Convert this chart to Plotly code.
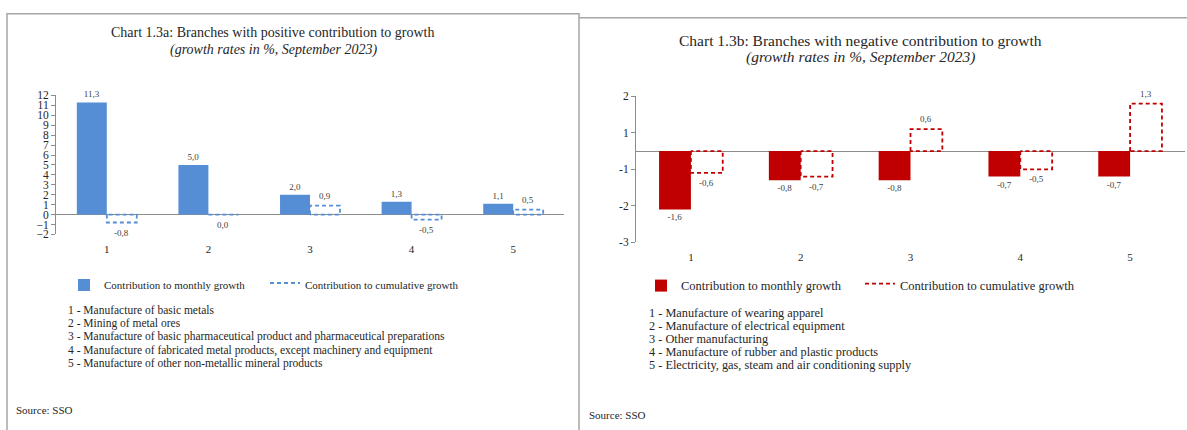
import plotly.graph_objects as go

# data
categories = [1, 2, 3, 4, 5]

pos_monthly = [11.3, 5.0, 2.0, 1.3, 1.1]
pos_cumulative = [-0.8, 0.0, 0.9, -0.5, 0.5]
pos_branches = [
    "Manufacture of basic metals",
    "Mining of metal ores",
    "Manufacture of basic pharmaceutical product and pharmaceutical preparations",
    "Manufacture of fabricated metal products, except machinery and equipment",
    "Manufacture of other non-metallic mineral products",
]

neg_monthly = [-1.6, -0.8, -0.8, -0.7, -0.7]
neg_cumulative = [-0.6, -0.7, 0.6, -0.5, 1.3]
neg_branches = [
    "Manufacture of wearing apparel",
    "Manufacture of electrical equipment",
    "Other manufacturing",
    "Manufacture of rubber and plastic products",
    "Electricity, gas, steam and air conditioning supply",
]

# y axis of chart b: ticks sit on half units, labels rounded like in the source
neg_tickvals = [-2.5, -1.5, -0.5, 0.5, 1.5]
neg_ticktext = ["-3", "-2", "-1", "1", "2"]

W, H = 1187, 430
FONT = "Liberation Serif"
BLUE = "#558ed5"
RED = "#c00000"
GREY = "#8c8c8c"
TXT = "#262626"


def px(x):
    return x / W


def py(y):
    return 1 - y / H


def add_panel(fig, monthly, cumulative, color, bw, xa, ya, legend):
    xs, ys = [], []
    for c, v in zip(categories, cumulative):
        xs += [c, c, c + bw, c + bw, c, None]
        ys += [0, v, v, 0, 0, None]

    fig.add_trace(go.Bar(
        x=[c - bw / 2 for c in categories], y=monthly, width=bw,
        marker=dict(color=color, line=dict(width=0)),
        name="Contribution to monthly growth",
        texttemplate="%{y:.1f}", textposition="outside",
        textfont=dict(size=9, color="#404040"), cliponaxis=False,
        xaxis=xa, yaxis=ya, legend=legend,
    ))
    fig.add_trace(go.Scatter(
        x=xs, y=ys, mode="lines", fill="toself",
        fillcolor="rgba(255,255,255,0)",
        line=dict(color=color, width=1.8, dash="4px,3px"),
        name="Contribution to cumulative growth",
        xaxis=xa, yaxis=ya, legend=legend,
    ))
    # value labels of the dashed bars
    for c, v in zip(categories, cumulative):
        fig.add_annotation(
            x=c + bw / 2, y=v, xref=xa, yref=ya,
            text=f"{v:.1f}".replace(".", ","),
            yshift=10 if v > 0 else -10,
            font=dict(size=9, color="#404040"),
        )


fig = go.Figure()
add_panel(fig, pos_monthly, pos_cumulative, BLUE, 0.295, "x", "y", "legend")
add_panel(fig, neg_monthly, neg_cumulative, RED, 0.29, "x2", "y2", "legend2")

xcommon = dict(range=[0.5, 5.5], tickvals=categories, ticktext=[str(c) for c in categories],
               showline=False, showgrid=False, zeroline=False, ticks="",
               ticklabelstandoff=7, tickfont=dict(size=11, color=TXT))
ycommon = dict(showline=True, linecolor=GREY, linewidth=1, ticks="outside", ticklen=4,
               tickcolor=GREY, showgrid=False, zeroline=True, zerolinecolor=GREY,
               zerolinewidth=1, tickfont=dict(size=11.5, color=TXT))

fig.update_layout(
    xaxis=dict(domain=[px(56), px(564)], anchor="y", **xcommon),
    yaxis=dict(domain=[py(235), py(92)], anchor="x", range=[-2, 12], dtick=1, **ycommon),
    xaxis2=dict(domain=[px(636), px(1185)], anchor="y2", **xcommon),
    yaxis2=dict(domain=[py(243), py(93)], anchor="x2", range=[-2.5, 1.5],
                tickvals=neg_tickvals, ticktext=neg_ticktext, **ycommon),
    legend=dict(orientation="h", x=px(64), y=py(287), xanchor="left", yanchor="middle",
                entrywidth=156, font=dict(size=11, color=TXT), traceorder="normal"),
    legend2=dict(orientation="h", x=px(641), y=py(288), xanchor="left", yanchor="middle",
                 entrywidth=174, font=dict(size=12.5, color=TXT), traceorder="normal"),
    barmode="overlay",
    separators=", ",
    width=W, height=H,
    margin=dict(l=0, r=0, t=0, b=0),
    paper_bgcolor="white", plot_bgcolor="white",
    font=dict(family=FONT, color=TXT),
    showlegend=True,
)

# panel frames
fig.add_shape(type="rect", xref="paper", yref="paper", x0=px(7), x1=px(579),
              y0=py(440), y1=py(8), line=dict(color="#a6a6a6", width=1.5))
fig.add_shape(type="line", xref="paper", yref="paper", x0=px(579), x1=1,
              y0=py(12), y1=py(12), line=dict(color="#a6a6a6", width=1.5))

# titles
fig.add_annotation(text="Chart 1.3a: Branches with positive contribution to growth",
                   x=px(273), y=py(27), xref="paper", yref="paper", font=dict(size=14))
fig.add_annotation(text="<i>(growth rates in %, September 2023)</i>",
                   x=px(273), y=py(45), xref="paper", yref="paper", font=dict(size=14))
fig.add_annotation(text="Chart 1.3b: Branches with negative contribution to growth",
                   x=px(860), y=py(35), xref="paper", yref="paper", font=dict(size=15.5))
fig.add_annotation(text="<i>(growth rates in %, September 2023)</i>",
                   x=px(860), y=py(52), xref="paper", yref="paper", font=dict(size=15.5))

# branch keys
for i, (c, name) in enumerate(zip(categories, pos_branches)):
    fig.add_annotation(text=f"{c} - {name}", x=px(66), y=py(313 + i * 13.75),
                       xref="paper", yref="paper", xanchor="left", font=dict(size=11.5))
for i, (c, name) in enumerate(zip(categories, neg_branches)):
    fig.add_annotation(text=f"{c} - {name}", x=px(647), y=py(316 + i * 13.3),
                       xref="paper", yref="paper", xanchor="left", font=dict(size=12.3))

fig.add_annotation(text="Source: SSO", x=px(14), y=py(416), xref="paper", yref="paper",
                   xanchor="left", font=dict(size=11))
fig.add_annotation(text="Source: SSO", x=px(587), y=py(421), xref="paper", yref="paper",
                   xanchor="left", font=dict(size=11))

fig.update_annotations(showarrow=False, yanchor="middle")
for a in fig.layout.annotations:
    if a.xanchor is None:
        a.xanchor = "center"

fig.write_html("out.html", config={"displayModeBar": False},
               post_script="document.body.style.margin = '0';")
